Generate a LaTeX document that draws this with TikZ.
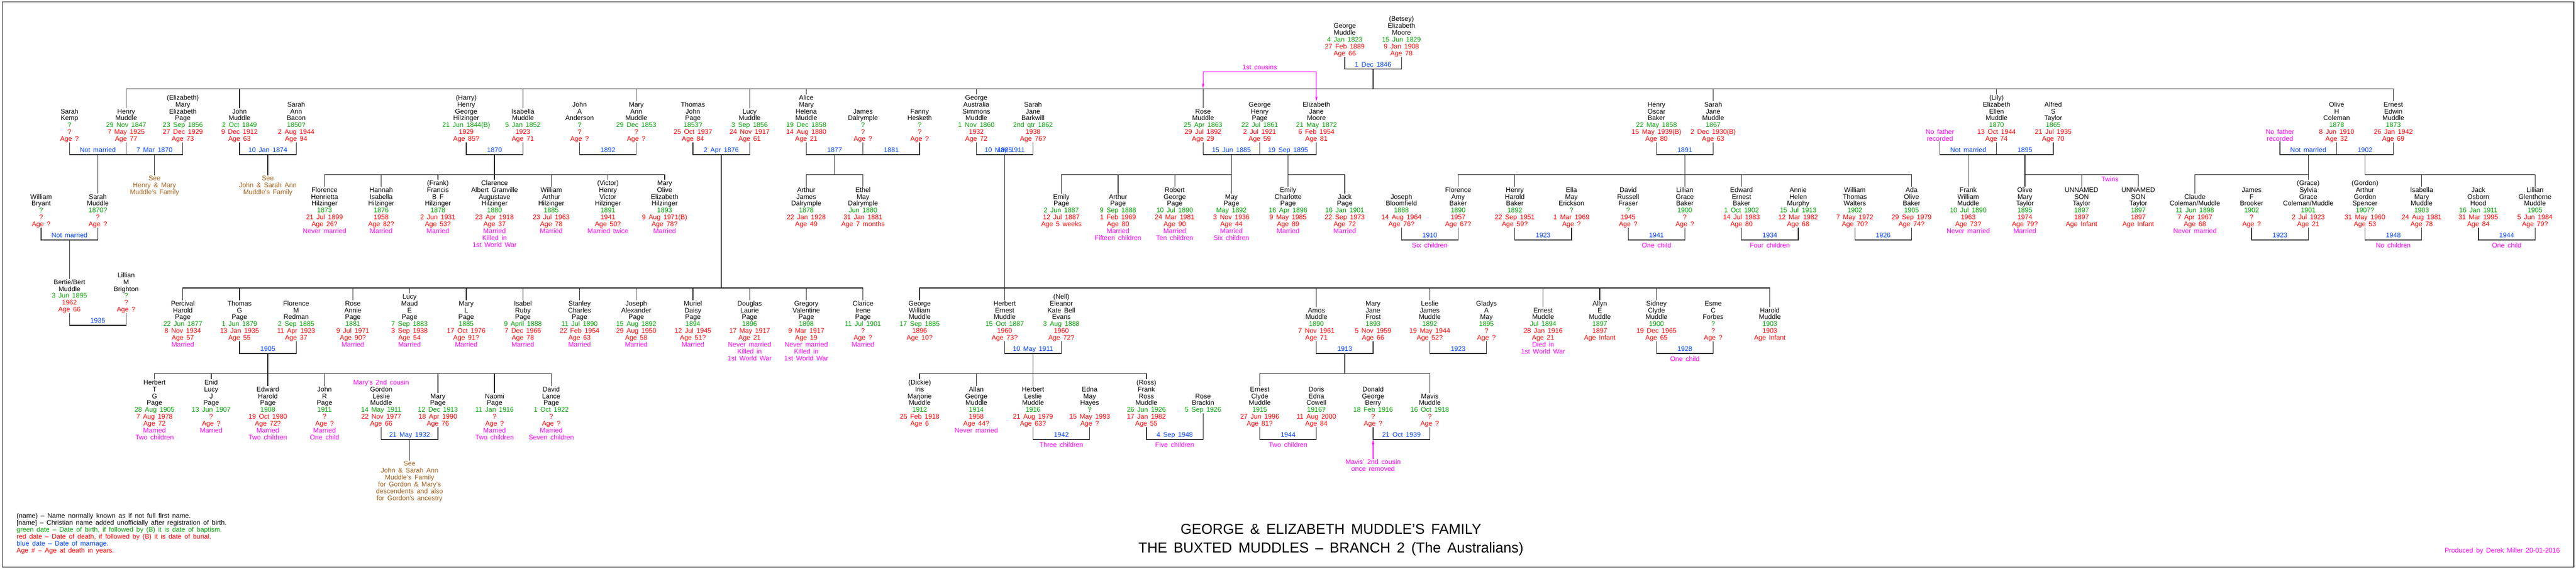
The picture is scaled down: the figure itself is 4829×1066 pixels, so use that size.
\documentclass[tikz,border=0pt]{standalone}
\usepackage{fontspec}
\setmainfont{Liberation Sans}[WordSpace=1.6]
\usetikzlibrary{arrows.meta,calc}
\definecolor{bgreen}{RGB}{0,160,0}
\definecolor{bred}{RGB}{255,0,0}
\definecolor{bblue}{RGB}{0,64,255}
\definecolor{bmag}{RGB}{255,0,255}
\definecolor{bbrown}{RGB}{165,95,25}
\pgfmathdeclarefunction{cx}{1}{\pgfmathparse{24+106.25*#1}}
\newcommand\pfont{\fontsize{12.5}{12.9}\selectfont\lineskiplimit=-20pt\relax}
\newcommand\tfont{\fontsize{27}{35.5}\selectfont\lineskiplimit=-20pt\relax}
\newcommand\Gd[1]{\textcolor{bgreen}{#1}}
\newcommand\Rd[1]{\textcolor{bred}{#1}}
\newcommand\Mg[1]{\textcolor{bmag}{#1}}
\newcommand\dts[3]{\Gd{#1}\\\Rd{#2}\\\Rd{#3}}
\newcommand\pers[5]{\node[pnode] (#1) at ({cx(#2)},{#3-(#4)*12.9-5.5}) {\rule{0pt}{10pt}#5};}
\newcommand\marr[7]{%
  \coordinate (#1) at ({(cx(#4)+cx(#5))/2},{#6+55.7});
  \draw[tline] (#2.south) -- (#2.south |- #1) -- (#3.south |- #1) -- (#3.south);
  \node[mlab] (#1l) at ({(cx(#4)+cx(#5))/2},{#6+51.5}) {#7};}
\newcommand\kids[4]{%
  \draw[tline] (#2.north) -- (#2.north |- #1) -- (#3.north |- #1) -- (#3.north);
  \foreach \k in {#4} {\draw[tline] (\k.north) -- (\k.north |- #1);}}
\tikzset{
  pnode/.style={align=center, inner sep=0pt, outer sep=0pt, anchor=north, font=\pfont},
  bnote/.style={pnode, text=bbrown},
  tline/.style={line width=1.3pt, draw=black!85},
  lab/.style={font=\pfont, inner sep=0pt, anchor=base},
  mlab/.style={lab, text=bblue},
  cnt/.style={lab, text=bmag},
  cous/.style={draw=bmag, line width=1.2pt, -{Stealth[length=10pt,width=4.5pt]}}
}
\begin{document}
\begin{tikzpicture}[x=1pt,y=-1pt]
\useasboundingbox (0,0) rectangle (4829,1066);
\draw[line width=1.5pt, black!85] (4.7,3.6) rectangle (4824.8,1063.6);

\coordinate (yL1) at (0,166.8);
\coordinate (yL2) at (0,327.4);
\coordinate (yL3) at (0,540);
\coordinate (yL4) at (0,700.8);

% ---------- Generation 0
\pers{gm}{23.5}{74}{2}{George\\Muddle\\\dts{4 Jan 1823}{27 Feb 1889}{Age 66}}
\pers{em}{24.5}{74}{3}{(Betsey)\\Elizabeth\\Moore\\\dts{15 Jun 1829}{9 Jan 1908}{Age 78}}
\marr{m0}{gm}{em}{23.5}{24.5}{74}{1 Dec 1846}

% ---------- Generation 1
\pers{skemp}{1}{234.3}{2}{Sarah\\Kemp\\\dts{?}{?}{Age ?}}
\pers{henry}{2}{234.3}{2}{Henry\\Muddle\\\dts{29 Nov 1847}{7 May 1925}{Age 77}}
\pers{epage}{3}{234.3}{4}{(Elizabeth)\\Mary\\Elizabeth\\Page\\\dts{23 Sep 1856}{27 Dec 1929}{Age 73}}
\pers{john}{4}{234.3}{2}{John\\Muddle\\\dts{2 Oct 1849}{9 Dec 1912}{Age 63}}
\pers{sabacon}{5}{234.3}{3}{Sarah\\Ann\\Bacon\\\dts{1850?}{2 Aug 1944}{Age 94}}
\pers{harry}{8}{234.3}{4}{(Harry)\\Henry\\George\\Hilzinger\\\dts{21 Jun 1844(B)}{1929}{Age 85?}}
\pers{isab}{9}{234.3}{2}{Isabella\\Muddle\\\dts{5 Jan 1852}{1923}{Age 71}}
\pers{janders}{10}{234.3}{3}{John\\A\\Anderson\\\dts{?}{?}{Age ?}}
\pers{maryann}{11}{234.3}{3}{Mary\\Ann\\Muddle\\\dts{29 Dec 1853}{?}{Age ?}}
\pers{tjpage}{12}{234.3}{3}{Thomas\\John\\Page\\\dts{1853?}{25 Oct 1937}{Age 84}}
\pers{lucy}{13}{234.3}{2}{Lucy\\Muddle\\\dts{3 Sep 1856}{24 Nov 1917}{Age 61}}
\pers{alice}{14}{234.3}{4}{Alice\\Mary\\Helena\\Muddle\\\dts{19 Dec 1858}{14 Aug 1880}{Age 21}}
\pers{jdal}{15}{234.3}{2}{James\\Dalrymple\\\dts{?}{?}{Age ?}}
\pers{fanny}{16}{234.3}{2}{Fanny\\Hesketh\\\dts{?}{?}{Age ?}}
\pers{gasm}{17}{234.3}{4}{George\\Australia\\Simmons\\Muddle\\\dts{1 Nov 1860}{1932}{Age 72}}
\pers{sjbark}{18}{234.3}{3}{Sarah\\Jane\\Barkwill\\\dts{2nd qtr 1862}{1938}{Age 76?}}
\pers{rose}{21}{234.3}{2}{Rose\\Muddle\\\dts{25 Apr 1863}{29 Jul 1892}{Age 29}}
\pers{ghpage}{22}{234.3}{3}{George\\Henry\\Page\\\dts{22 Jul 1861}{2 Jul 1921}{Age 59}}
\pers{ejmoore}{23}{234.3}{3}{Elizabeth\\Jane\\Moore\\\dts{21 May 1872}{6 Feb 1954}{Age 81}}
\pers{hobaker}{29}{234.3}{3}{Henry\\Oscar\\Baker\\\dts{22 May 1858}{15 May 1939(B)}{Age 80}}
\pers{sjmud}{30}{234.3}{3}{Sarah\\Jane\\Muddle\\\dts{1867}{2 Dec 1930(B)}{Age 63}}
\pers{nofa}{34}{234.3}{-1}{\Mg{No father}\\\Mg{recorded}}
\pers{lily}{35}{234.3}{4}{(Lily)\\Elizabeth\\Ellen\\Muddle\\\dts{1870}{13 Oct 1944}{Age 74}}
\pers{alfred}{36}{234.3}{3}{Alfred\\S\\Taylor\\\dts{1865}{21 Jul 1935}{Age 70}}
\pers{nofb}{40}{234.3}{-1}{\Mg{No father}\\\Mg{recorded}}
\pers{oliveh}{41}{234.3}{3}{Olive\\H\\Coleman\\\dts{1878}{8 Jun 1910}{Age 32}}
\pers{ernest}{42}{234.3}{3}{Ernest\\Edwin\\Muddle\\\dts{1873}{26 Jan 1942}{Age 69}}

\marr{mA}{skemp}{henry}{1}{2}{234.3}{Not married}
\marr{mB}{henry}{epage}{2}{3}{234.3}{7 Mar 1870}
\marr{mC}{john}{sabacon}{4}{5}{234.3}{10 Jan 1874}
\marr{mD}{harry}{isab}{8}{9}{234.3}{1870}
\marr{mE}{janders}{maryann}{10}{11}{234.3}{1892}
\marr{mF}{tjpage}{lucy}{12}{13}{234.3}{2 Apr 1876}
\marr{mG}{alice}{jdal}{14}{15}{234.3}{1877}
\marr{mH}{jdal}{fanny}{15}{16}{234.3}{1881}
\marr{mI}{gasm}{sjbark}{17}{18}{234.3}{1885}
\node[mlab] (mIx) at ({cx(17.5)},285.8) {10 May 1911};
\marr{mJ}{rose}{ghpage}{21}{22}{234.3}{15 Jun 1885}
\marr{mK}{ghpage}{ejmoore}{22}{23}{234.3}{19 Sep 1895}
\marr{mL}{hobaker}{sjmud}{29}{30}{234.3}{1891}
\marr{mM}{nofa}{lily}{34}{35}{234.3}{Not married}
\marr{mN}{lily}{alfred}{35}{36}{234.3}{1895}
\marr{mO}{nofb}{oliveh}{40}{41}{234.3}{Not married}
\marr{mP}{oliveh}{ernest}{41}{42}{234.3}{1902}

% 1st cousins
\coordinate (cusL) at ({cx(21)},134.6);
\coordinate (cusR) at ({cx(23)},134.6);
\draw[cous] (cusL) -- (cusR) -- (ejmoore.north);
\draw[cous, shorten >=1pt] (cusL) -- (cusL |- yL1);
\node[cnt] (cuslab) at ({cx(22)},130.5) {1st cousins};

% ---------- Generation 2
\pers{wbry}{0.5}{394.3}{2}{William\\Bryant\\\dts{?}{?}{Age ?}}
\pers{smud}{1.5}{394.3}{2}{Sarah\\Muddle\\\dts{1870?}{?}{Age ?}}
\node[bnote] (seeHM) at ({cx(2.5)},328.8) {\rule{0pt}{10pt}See\\Henry \& Mary\\Muddle's Family};
\node[bnote] (seeJS) at ({cx(4.5)},328.8) {\rule{0pt}{10pt}See\\John \& Sarah Ann\\Muddle's Family};
\pers{fhh}{5.5}{394.3}{3}{Florence\\Henrietta\\Hilzinger\\\dts{1873}{21 Jul 1899}{Age 26?}\\\Mg{Never married}}
\pers{hih}{6.5}{394.3}{3}{Hannah\\Isabella\\Hilzinger\\\dts{1876}{1958}{Age 82?}\\\Mg{Married}}
\pers{frank}{7.5}{394.3}{4}{(Frank)\\Francis\\B F\\Hilzinger\\\dts{1878}{2 Jun 1931}{Age 53?}\\\Mg{Married}}
\pers{clar}{8.5}{394.3}{4}{Clarence\\Albert Granville\\Augustave\\Hilzinger\\\dts{1880}{23 Apr 1918}{Age 37}\\\Mg{Married}\\\Mg{Killed in}\\\Mg{1st World War}}
\pers{wah}{9.5}{394.3}{3}{William\\Arthur\\Hilzinger\\\dts{1885}{23 Jul 1963}{Age 78}\\\Mg{Married}}
\pers{vict}{10.5}{394.3}{4}{(Victor)\\Henry\\Victor\\Hilzinger\\\dts{1891}{1941}{Age 50?}\\\Mg{Married twice}}
\pers{moeh}{11.5}{394.3}{4}{Mary\\Olive\\Elizabeth\\Hilzinger\\\dts{1893}{9 Aug 1971(B)}{Age 78?}\\\Mg{Married}}
\pers{ajd}{14}{394.3}{3}{Arthur\\James\\Dalrymple\\\dts{1878}{22 Jan 1928}{Age 49}}
\pers{emd}{15}{394.3}{3}{Ethel\\May\\Dalrymple\\\dts{Jun 1880}{31 Jan 1881}{Age 7 months}}
\pers{emily}{18.5}{394.3}{2}{Emily\\Page\\\dts{2 Jun 1887}{12 Jul 1887}{Age 5 weeks}}
\pers{arthur}{19.5}{394.3}{2}{Arthur\\Page\\\dts{9 Sep 1888}{1 Feb 1969}{Age 80}\\\Mg{Married}\\\Mg{Fifteen children}}
\pers{robert}{20.5}{394.3}{3}{Robert\\George\\Page\\\dts{10 Jul 1890}{24 Mar 1981}{Age 90}\\\Mg{Married}\\\Mg{Ten children}}
\pers{may}{21.5}{394.3}{2}{May\\Page\\\dts{May 1892}{3 Nov 1936}{Age 44}\\\Mg{Married}\\\Mg{Six children}}
\pers{ecp}{22.5}{394.3}{3}{Emily\\Charlotte\\Page\\\dts{16 Apr 1896}{9 May 1985}{Age 89}\\\Mg{Married}}
\pers{jack}{23.5}{394.3}{2}{Jack\\Page\\\dts{16 Jan 1901}{22 Sep 1973}{Age 72}\\\Mg{Married}}
\pers{jbloom}{24.5}{394.3}{2}{Joseph\\Bloomfield\\\dts{1888}{14 Aug 1964}{Age 76?}}
\pers{fab}{25.5}{394.3}{3}{Florence\\Amy\\Baker\\\dts{1890}{1957}{Age 67?}}
\pers{hhb}{26.5}{394.3}{3}{Henry\\Harold\\Baker\\\dts{1892}{22 Sep 1951}{Age 59?}}
\pers{eme}{27.5}{394.3}{3}{Ella\\May\\Erickson\\\dts{?}{1 Mar 1969}{Age ?}}
\pers{drf}{28.5}{394.3}{3}{David\\Russell\\Fraser\\\dts{?}{1945}{Age ?}}
\pers{lgb}{29.5}{394.3}{3}{Lillian\\Grace\\Baker\\\dts{1900}{?}{Age ?}}
\pers{eeb}{30.5}{394.3}{3}{Edward\\Ernest\\Baker\\\dts{1 Oct 1902}{14 Jul 1983}{Age 80}}
\pers{ahm}{31.5}{394.3}{3}{Annie\\Helen\\Murphy\\\dts{15 Jul 1913}{12 Mar 1982}{Age 68}}
\pers{wtw}{32.5}{394.3}{3}{William\\Thomas\\Walters\\\dts{1902}{7 May 1972}{Age 70?}}
\pers{aob}{33.5}{394.3}{3}{Ada\\Olive\\Baker\\\dts{1905}{29 Sep 1979}{Age 74?}}
\pers{fwm}{34.5}{394.3}{3}{Frank\\William\\Muddle\\\dts{10 Jul 1890}{1963}{Age 73?}\\\Mg{Never married}}
\pers{omt}{35.5}{394.3}{3}{Olive\\Mary\\Taylor\\\dts{1895}{1974}{Age 79?}\\\Mg{Married}}
\pers{us1}{36.5}{394.3}{3}{UNNAMED\\SON\\Taylor\\\dts{1897}{1897}{Age Infant}}
\pers{us2}{37.5}{394.3}{3}{UNNAMED\\SON\\Taylor\\\dts{1897}{1897}{Age Infant}}
\pers{claude}{38.5}{394.3}{2}{Claude\\Coleman/Muddle\\\dts{11 Jun 1898}{7 Apr 1967}{Age 68}\\\Mg{Never married}}
\pers{jfb}{39.5}{394.3}{3}{James\\F\\Brooker\\\dts{1902}{?}{Age ?}}
\pers{grace}{40.5}{394.3}{4}{(Grace)\\Sylvia\\Grace\\Coleman/Muddle\\\dts{1901}{2 Jul 1923}{Age 21}}
\pers{gordon}{41.5}{394.3}{4}{(Gordon)\\Arthur\\Gordon\\Spencer\\\dts{1907?}{31 May 1960}{Age 53}}
\pers{imm}{42.5}{394.3}{3}{Isabella\\Mary\\Muddle\\\dts{1903}{24 Aug 1981}{Age 78}}
\pers{joh}{43.5}{394.3}{3}{Jack\\Osborn\\Hood\\\dts{16 Jan 1911}{31 Mar 1995}{Age 84}}
\pers{lgm}{44.5}{394.3}{3}{Lillian\\Glenthorne\\Muddle\\\dts{1905}{5 Jun 1984}{Age 79?}}
\node[cnt] (twins) at ({cx(37)},340) {Twins};

\marr{mQ}{wbry}{smud}{0.5}{1.5}{394.3}{Not married}
\marr{mR}{jbloom}{fab}{24.5}{25.5}{394.3}{1910}
\marr{mS}{hhb}{eme}{26.5}{27.5}{394.3}{1923}
\marr{mT}{drf}{lgb}{28.5}{29.5}{394.3}{1941}
\marr{mU}{eeb}{ahm}{30.5}{31.5}{394.3}{1934}
\marr{mV}{wtw}{aob}{32.5}{33.5}{394.3}{1926}
\marr{mW}{jfb}{grace}{39.5}{40.5}{394.3}{1923}
\marr{mX}{gordon}{imm}{41.5}{42.5}{394.3}{1948}
\marr{mY}{joh}{lgm}{43.5}{44.5}{394.3}{1944}
\node[cnt] (cR) at ({cx(25)},464.8) {Six children};
\node[cnt] (cT) at ({cx(29)},464.8) {One child};
\node[cnt] (cU) at ({cx(31)},464.8) {Four children};
\node[cnt] (cX) at ({cx(42)},464.8) {No children};
\node[cnt] (cY) at ({cx(44)},464.8) {One child};

% ---------- Generation 2.5
\pers{bertie}{1}{554.4}{2}{Bertie/Bert\\Muddle\\\dts{3 Jun 1895}{1962}{Age 66}}
\pers{lmb}{2}{554.4}{3}{Lillian\\M\\Brighton\\\dts{?}{?}{Age ?}}
\marr{mZ}{bertie}{lmb}{1}{2}{554.4}{1935}

% ---------- Generation 3
\pers{phpage}{3}{607.3}{3}{Percival\\Harold\\Page\\\dts{22 Jun 1877}{8 Nov 1934}{Age 57}\\\Mg{Married}}
\pers{tgpage}{4}{607.3}{3}{Thomas\\G\\Page\\\dts{1 Jun 1879}{13 Jan 1935}{Age 55}}
\pers{fmr}{5}{607.3}{3}{Florence\\M\\Redman\\\dts{2 Sep 1885}{11 Apr 1923}{Age 37}}
\pers{rap}{6}{607.3}{3}{Rose\\Annie\\Page\\\dts{1881}{9 Jul 1971}{Age 90?}\\\Mg{Married}}
\pers{lmep}{7}{607.3}{4}{Lucy\\Maud\\E\\Page\\\dts{7 Sep 1883}{3 Sep 1938}{Age 54}\\\Mg{Married}}
\pers{mlp}{8}{607.3}{3}{Mary\\L\\Page\\\dts{1885}{17 Oct 1976}{Age 91?}\\\Mg{Married}}
\pers{irp}{9}{607.3}{3}{Isabel\\Ruby\\Page\\\dts{9 April 1888}{7 Dec 1966}{Age 78}\\\Mg{Married}}
\pers{scp}{10}{607.3}{3}{Stanley\\Charles\\Page\\\dts{11 Jul 1890}{22 Feb 1954}{Age 63}\\\Mg{Married}}
\pers{jap}{11}{607.3}{3}{Joseph\\Alexander\\Page\\\dts{15 Aug 1892}{29 Aug 1950}{Age 58}\\\Mg{Married}}
\pers{mdp}{12}{607.3}{3}{Muriel\\Daisy\\Page\\\dts{1894}{12 Jul 1945}{Age 51?}\\\Mg{Married}}
\pers{dlp}{13}{607.3}{3}{Douglas\\Laurie\\Page\\\dts{1896}{17 May 1917}{Age 21}\\\Mg{Never married}\\\Mg{Killed in}\\\Mg{1st World War}}
\pers{gvp}{14}{607.3}{3}{Gregory\\Valentine\\Page\\\dts{1898}{9 Mar 1917}{Age 19}\\\Mg{Never married}\\\Mg{Killed in}\\\Mg{1st World War}}
\pers{cip}{15}{607.3}{3}{Clarice\\Irene\\Page\\\dts{11 Jul 1901}{?}{Age ?}\\\Mg{Married}}
\pers{gwm}{16}{607.3}{3}{George\\William\\Muddle\\\dts{17 Sep 1885}{1896}{Age 10?}}
\pers{hem}{17.5}{607.3}{3}{Herbert\\Ernest\\Muddle\\\dts{15 Oct 1887}{1960}{Age 73?}}
\pers{nell}{18.5}{607.3}{4}{(Nell)\\Eleanor\\Kate Bell\\Evans\\\dts{3 Aug 1888}{1960}{Age 72?}}
\pers{amos}{23}{607.3}{2}{Amos\\Muddle\\\dts{1890}{7 Nov 1961}{Age 71}}
\pers{mjf}{24}{607.3}{3}{Mary\\Jane\\Frost\\\dts{1893}{5 Nov 1959}{Age 66}}
\pers{ljm}{25}{607.3}{3}{Leslie\\James\\Muddle\\\dts{1892}{19 May 1944}{Age 52?}}
\pers{gam}{26}{607.3}{3}{Gladys\\A\\May\\\dts{1895}{?}{Age ?}}
\pers{ernm}{27}{607.3}{2}{Ernest\\Muddle\\\dts{Jul 1894}{28 Jan 1916}{Age 21}\\\Mg{Died in}\\\Mg{1st World War}}
\pers{aem}{28}{607.3}{3}{Allyn\\E\\Muddle\\\dts{1897}{1897}{Age Infant}}
\pers{scm}{29}{607.3}{3}{Sidney\\Clyde\\Muddle\\\dts{1900}{19 Dec 1965}{Age 65}}
\pers{ecf}{30}{607.3}{3}{Esme\\C\\Forbes\\\dts{?}{?}{Age ?}}
\pers{harm}{31}{607.3}{2}{Harold\\Muddle\\\dts{1903}{1903}{Age Infant}}

\marr{m3a}{tgpage}{fmr}{4}{5}{607.3}{1905}
\marr{m3b}{hem}{nell}{17.5}{18.5}{607.3}{10 May 1911}
\marr{m3c}{amos}{mjf}{23}{24}{607.3}{1913}
\marr{m3d}{ljm}{gam}{25}{26}{607.3}{1923}
\marr{m3e}{scm}{ecf}{29}{30}{607.3}{1928}
\node[cnt] (c3e) at ({cx(29.5)},677.8) {One child};

% ---------- Generation 4
\pers{htgp}{2.5}{768.3}{4}{Herbert\\T\\G\\Page\\\dts{28 Aug 1905}{7 Aug 1978}{Age 72}\\\Mg{Married}\\\Mg{Two children}}
\pers{eljp}{3.5}{768.3}{4}{Enid\\Lucy\\J\\Page\\\dts{13 Jun 1907}{?}{Age ?}\\\Mg{Married}}
\pers{ehp}{4.5}{768.3}{3}{Edward\\Harold\\Page\\\dts{1908}{19 Oct 1980}{Age 72?}\\\Mg{Married}\\\Mg{Two children}}
\pers{jrp}{5.5}{768.3}{3}{John\\R\\Page\\\dts{1911}{?}{Age ?}\\\Mg{Married}\\\Mg{One child}}
\pers{glm}{6.5}{768.3}{4}{\Mg{Mary's 2nd cousin}\\Gordon\\Leslie\\Muddle\\\dts{14 May 1911}{22 Nov 1977}{Age 66}}
\pers{mpage}{7.5}{768.3}{2}{Mary\\Page\\\dts{12 Dec 1913}{18 Apr 1990}{Age 76}}
\pers{naomi}{8.5}{768.3}{2}{Naomi\\Page\\\dts{11 Jan 1916}{?}{Age ?}\\\Mg{Married}\\\Mg{Two children}}
\pers{dlap}{9.5}{768.3}{3}{David\\Lance\\Page\\\dts{1 Oct 1922}{?}{Age ?}\\\Mg{Married}\\\Mg{Seven children}}
\pers{dickie}{16}{768.3}{4}{(Dickie)\\Iris\\Marjorie\\Muddle\\\dts{1912}{25 Feb 1918}{Age 6}}
\pers{agm}{17}{768.3}{3}{Allan\\George\\Muddle\\\dts{1914}{1958}{Age 44?}\\\Mg{Never married}}
\pers{hlm}{18}{768.3}{3}{Herbert\\Leslie\\Muddle\\\dts{1916}{21 Aug 1979}{Age 63?}}
\pers{emh}{19}{768.3}{3}{Edna\\May\\Hayes\\\dts{?}{15 May 1993}{Age ?}}
\pers{ross}{20}{768.3}{4}{(Ross)\\Frank\\Ross\\Muddle\\\dts{26 Jun 1926}{17 Jan 1982}{Age 55}}
\pers{rbrack}{21}{768.3}{2}{Rose\\Brackin\\\Gd{5 Sep 1926}}
\pers{ecm}{22}{768.3}{3}{Ernest\\Clyde\\Muddle\\\dts{1915}{27 Jun 1996}{Age 81?}}
\pers{dec}{23}{768.3}{3}{Doris\\Edna\\Cowell\\\dts{1916?}{11 Aug 2000}{Age 84}}
\pers{dgb}{24}{768.3}{3}{Donald\\George\\Berry\\\dts{18 Feb 1916}{?}{Age ?}}
\pers{mavis}{25}{768.3}{2}{Mavis\\Muddle\\\dts{16 Oct 1918}{?}{Age ?}}

\marr{m4a}{glm}{mpage}{6.5}{7.5}{768.3}{21 May 1932}
\marr{m4b}{hlm}{emh}{18}{19}{768.3}{1942}
\marr{m4c}{ross}{rbrack}{20}{21}{768.3}{4 Sep 1948}
\marr{m4d}{ecm}{dec}{22}{23}{768.3}{1944}
\marr{m4e}{dgb}{mavis}{24}{25}{768.3}{21 Oct 1939}
\node[cnt] (c4b) at ({cx(18.5)},838.8) {Three children};
\node[cnt] (c4c) at ({cx(20.5)},838.8) {Five children};
\node[cnt] (c4d) at ({cx(22.5)},838.8) {Two children};

\node[bnote] (seeGM) at ({cx(7)},863.9) {\rule{0pt}{10pt}See\\John \& Sarah Ann\\Muddle's Family\\for Gordon \& Mary's\\descendents and also\\for Gordon's ancestry};
\node[pnode] (mavlab) at ({cx(24)},860.5) {\rule{0pt}{10pt}\Mg{Mavis' 2nd cousin}\\\Mg{once removed}};

% ---------- Connectors
\draw[tline] (m0) -- (m0 |- yL1);
\kids{yL1}{henry}{ernest}{john,isab,maryann,lucy,alice,gasm,rose,sjmud,lily}
\draw[tline] (mA) -- (smud.north);
\draw[tline] (mB) -- (seeHM.north);
\draw[tline] (mC) -- (seeJS.north);
\draw[tline] (mD) -- (clar.north);
\kids{yL2}{fhh}{moeh}{hih,frank,wah,vict}
\draw[tline] (mF) -- (mF |- yL3);
\draw[tline] (mG) -- (mG |- yL2);
\kids{yL2}{ajd}{emd}{ajd}
\draw[tline] (mI) -- (hem.north);
\draw[tline] (mJ) -- (may.north);
\kids{yL2}{emily}{may}{arthur,robert}
\draw[tline] (mK) -- (ecp.north);
\kids{yL2}{ecp}{jack}{jack}
\draw[tline] (mL) -- (lgb.north);
\kids{yL2}{fab}{aob}{hhb,eeb}
\draw[tline] (mM) -- (fwm.north);
\draw[tline] (mN) -- (omt.north);
\kids{yL2}{omt}{us2}{us1}
\draw[tline] (mO) -- (grace.north);
\kids{yL2}{claude}{grace}{claude}
\draw[tline] (mP) -- (mP |- yL2) -- (lgm.north |- yL2) -- (lgm.north);
\draw[tline] (imm.north) -- (imm.north |- yL2);
\draw[tline] (mQ) -- (bertie.north);
\kids{yL3}{phpage}{cip}{tgpage,rap,lmep,mlp,irp,scp,jap,mdp,dlp,gvp}
\kids{yL3}{gwm}{harm}{amos,ljm,ernm,aem,scm}
\draw[tline] (m3a) -- (ehp.north);
\kids{yL4}{htgp}{dlap}{eljp,jrp,mpage,naomi}
\draw[tline] (m3b) -- (hlm.north);
\kids{yL4}{dickie}{ross}{agm}
\draw[tline] (m3c) -- (m3c |- yL4);
\kids{yL4}{ecm}{mavis}{ecm}
\draw[tline] (m4a) -- (seeGM.north);
\draw[cous] (mavlab.north) -- (mavlab.north |- m4e);

% ---------- Legend, title, credit
\node[anchor=north west, align=left, inner sep=0pt, font=\pfont] (legend) at (31,961.4) {\rule{0pt}{10pt}(name) -- Name normally known as if not full first name.\\{[name] -- Christian name added unofficially after registration of birth.}\\\Gd{green date -- Date of birth, if followed by (B) it is date of baptism.}\\\Rd{red date -- Date of death, if followed by (B) it is date of burial.}\\\textcolor{bblue}{blue date -- Date of marriage.}\\\Rd{Age \# -- Age at death in years.}};
\node[align=center, inner sep=0pt, anchor=north, font=\tfont] (title) at (2495,978.8) {\rule{0pt}{22pt}GEORGE \& ELIZABETH MUDDLE'S FAMILY\\THE BUXTED MUDDLES -- BRANCH 2 (The Australians)};
\node[anchor=base east, inner sep=0pt, font=\pfont, text=bmag] (prod) at (4799,1036.5) {Produced by Derek Miller 20-01-2016};
\end{tikzpicture}
\end{document}
